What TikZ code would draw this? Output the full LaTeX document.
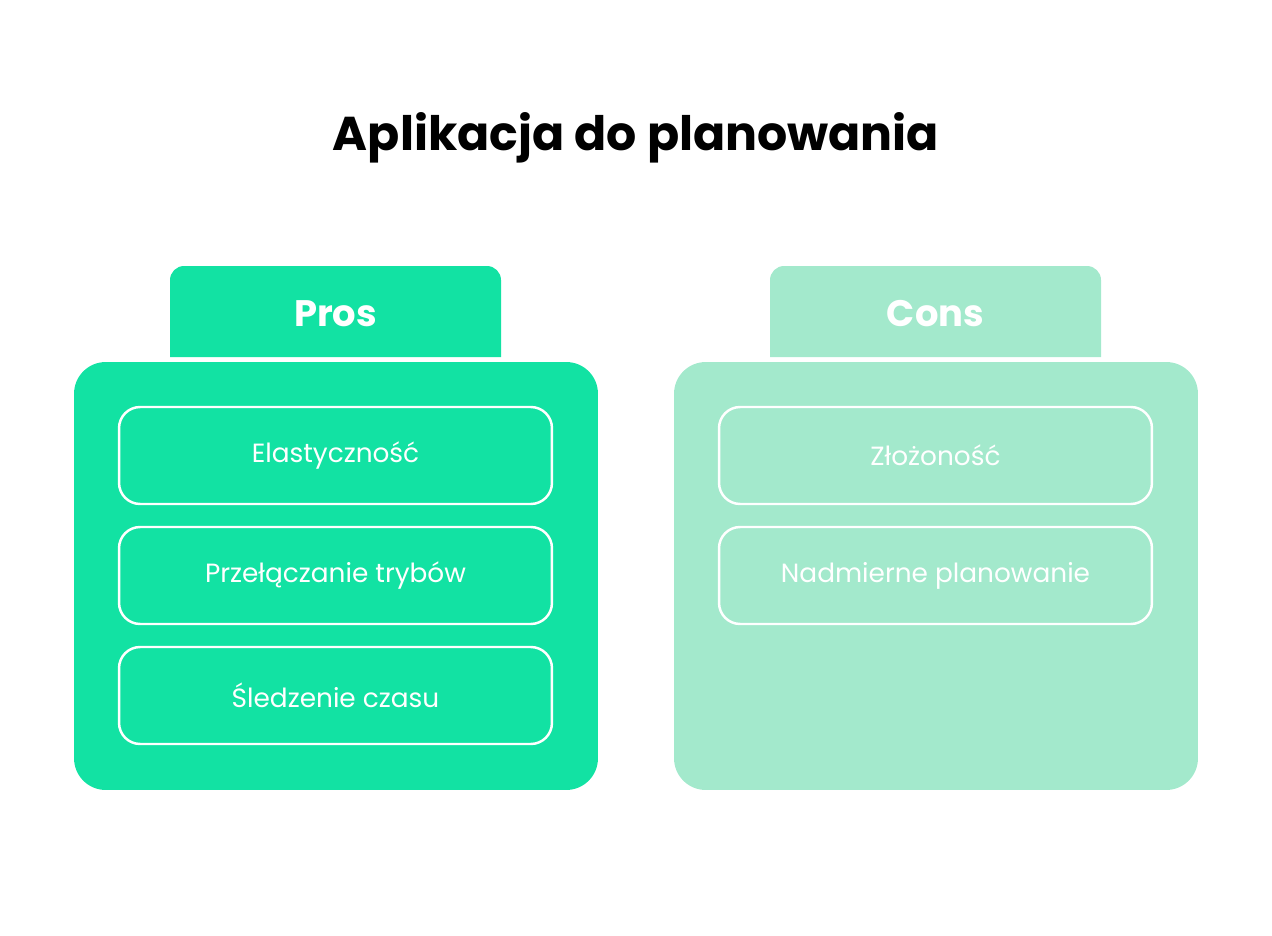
\documentclass[tikz,border=0pt]{standalone}
\usepackage{fontspec}
\setmainfont{Poppins}
\definecolor{prosgreen}{HTML}{12E2A3}
\definecolor{consgreen}{HTML}{A3E9CC}
\tikzset{
    panel/.style={rounded corners=18pt, minimum width=10.48cm, minimum height=8.56cm},
    item/.style={draw=white, line width=1.4pt, rounded corners=12pt, minimum width=8.66cm,
        minimum height=1.94cm, text=white, font=\fontsize{15}{18}\selectfont},
    tablabel/.style={text=white, font=\fontsize{21}{24}\selectfont\bfseries}
}
\begin{document}
\begin{tikzpicture}[x=0.02cm,y=-0.02cm]
\useasboundingbox (0,0) rectangle (1272,936);
\node (title) at (636,138) {\fontsize{27}{32}\selectfont\bfseries Aplikacja do planowania};

% Pros
\fill[prosgreen] (170,357) {[rounded corners=8pt] -- (170,266) -- (501,266)} -- (501,357) -- cycle;
\node[tablabel] (pros) at (335.5,314) {Pros};
\node[panel, fill=prosgreen] (prosbox) at (336,576) {};
\node[item] (p1) at (335.5,455.5) {Elastyczność};
\node[item] (p2) at (335.5,575.5) {Przełączanie trybów};
\node[item] (p3) at (335.5,695.5) {Śledzenie czasu};

% Cons
\fill[consgreen] (770,357) {[rounded corners=8pt] -- (770,266) -- (1101,266)} -- (1101,357) -- cycle;
\node[tablabel] (cons) at (935.5,314) {Cons};
\node[panel, fill=consgreen] (consbox) at (936,576) {};
\node[item] (c1) at (935.5,455.5) {Złożoność};
\node[item] (c2) at (935.5,575.5) {Nadmierne planowanie};
\end{tikzpicture}
\end{document}
